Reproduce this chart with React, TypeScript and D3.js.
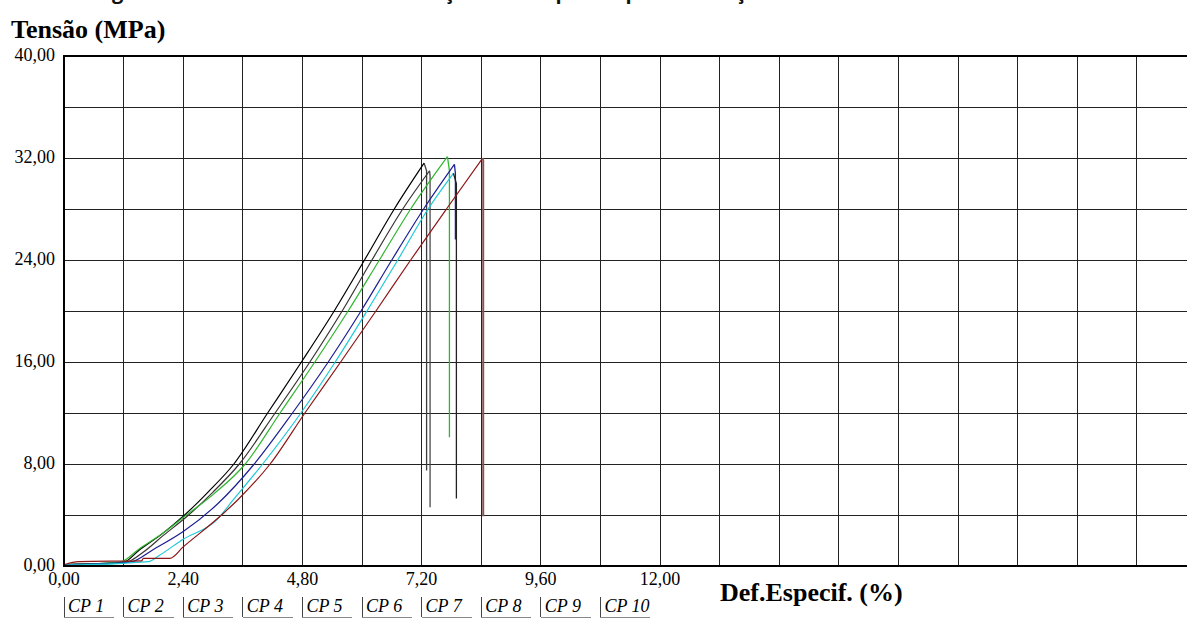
import * as d3 from "d3";

// curvas tensão x deformação (x = def. %, y = MPa), os dois últimos pontos = queda na ruptura
const CP1: [number, number][] = [
  [0, 0.1], [1.2, 0.3], [1.5, 1.2], [2.0, 2.6], [2.4, 3.9], [2.9, 5.8], [3.42, 8],
  [4.1, 12], [4.78, 16], [5.44, 20], [6.05, 24], [6.65, 28], [7.25, 31.6], [7.3, 31.0], [7.3, 7.5],
];
const CP2: [number, number][] = [
  [0, 0.1], [1.25, 0.3], [1.6, 1.1], [2.0, 2.4], [2.45, 3.8], [3.0, 5.8], [3.53, 8],
  [4.25, 12], [4.95, 16], [5.6, 20], [6.2, 24], [6.82, 28], [7.36, 31.0], [7.37, 30.6], [7.37, 4.6],
];
const CP3: [number, number][] = [
  [0, 0.1], [1.13, 0.3], [1.5, 1.3], [2.0, 2.6], [2.4, 3.8], [3.0, 5.6], [3.65, 8],
  [4.35, 12], [5.05, 16], [5.72, 20], [6.35, 24], [6.98, 28], [7.72, 32.1], [7.76, 31.0], [7.76, 10.1],
];
const CP4: [number, number][] = [
  [0, 0.1], [1.33, 0.3], [1.8, 1.3], [2.4, 2.7], [3.1, 4.9], [3.83, 8],
  [4.6, 12], [5.32, 16], [5.98, 20], [6.6, 24], [7.24, 28], [7.86, 31.5], [7.88, 30.8], [7.88, 25.6],
];
const CP5: [number, number][] = [
  [0, 0.1], [0.3, 0.1], [1.7, 0.34], [1.93, 0.86], [2.4, 2.1], [3.07, 3.6], [3.41, 5.2], [4.0, 8],
  [4.77, 12], [5.46, 16], [6.1, 20], [6.72, 24], [7.33, 28], [7.84, 30.8], [7.9, 30.0], [7.9, 5.3],
];
const CP6: [number, number][] = [
  [0, 0.1], [0.3, 0.35], [1.56, 0.4], [1.6, 0.6], [2.13, 0.6], [2.4, 1.5], [3.2, 4.1], [3.5, 5.2],
  [4.15, 8], [4.85, 12], [5.57, 16], [6.28, 20], [6.98, 24], [7.7, 28], [8.43, 32.0], [8.44, 31.8], [8.44, 3.9],
];

const SERIES = [CP1, CP2, CP3, CP4, CP5, CP6];
const SERIES_COLORS = ["#000000", "#3a3333", "#2fb52f", "#1c1f94", "#1fc9d6", "#8e1616"];
const DROP_COLORS = ["#3c3c3c", "#4a4a4a", "#2fb52f", "#1c1f94", "#222222", "#8a5555"];

const LEGEND = ["CP 1", "CP 2", "CP 3", "CP 4", "CP 5", "CP 6", "CP 7", "CP 8", "CP 9", "CP 10"];
const X_TICKS = [0, 2.4, 4.8, 7.2, 9.6, 12];
const Y_TICKS = [0, 8, 16, 24, 32, 40];

const W = 1187;
const H = 619;

const ptBR = d3.formatLocale({ decimal: ",", thousands: ".", grouping: [3], currency: ["", ""] });
const fmt = ptBR.format(".2f");

export default function App() {
  const x = d3.scaleLinear().domain([0, 24]).range([64, 64 + 24 * 49.67]);
  const y = d3.scaleLinear().domain([0, 40]).range([566, 56]);

  const curve = d3
    .line<[number, number]>()
    .x((d) => x(d[0]))
    .y((d) => y(d[1]))
    .curve(d3.curveMonotoneX);
  const straight = d3
    .line<[number, number]>()
    .x((d) => x(d[0]))
    .y((d) => y(d[1]));

  const xGrid = d3.range(1, 21).map((i) => i * 1.2);
  const yGrid = d3.range(1, 10).map((i) => i * 4);

  return (
    <div style={{ position: "absolute", left: 0, top: 0 }}>
      <svg width={W} height={H} style={{ display: "block", background: "#fff" }}>
        {/* legenda da figura, cortada no topo como no original */}
        <text x={95} y={-1} fontFamily="'Open Sans', sans-serif" fontWeight="bold" fontSize={20} fill="#111">
          Figura 4 – Curvas tensão x deformação dos corpos de prova à tração
        </text>

        <text x={11} y={38} fontFamily="'Liberation Serif', serif" fontWeight="bold" fontSize={26} fill="#000">
          Tensão (MPa)
        </text>

        {/* grade */}
        {xGrid.map((v) => (
          <line key={"gx" + v} x1={x(v)} x2={x(v)} y1={y(40)} y2={y(0)} stroke="#222" strokeWidth={1} shapeRendering="crispEdges" />
        ))}
        {yGrid.map((v) => (
          <line key={"gy" + v} x1={x(0)} x2={x(24)} y1={y(v)} y2={y(v)} stroke="#222" strokeWidth={1} shapeRendering="crispEdges" />
        ))}

        {/* curvas */}
        {SERIES.map((s, i) => (
          <g key={"s" + i}>
            <path d={curve(s.slice(0, -2)) ?? ""} fill="none" stroke={SERIES_COLORS[i]} strokeWidth={1.2} />
            <path d={straight(s.slice(-3)) ?? ""} fill="none" stroke={DROP_COLORS[i]} strokeWidth={i === 5 ? 2 : 1.3} />
          </g>
        ))}

        {/* moldura */}
        <line x1={x(0)} x2={x(24)} y1={y(40)} y2={y(40)} stroke="#000" strokeWidth={2} />
        <line x1={x(0)} x2={x(24)} y1={y(0)} y2={y(0)} stroke="#000" strokeWidth={2} />
        <line x1={x(0)} x2={x(0)} y1={y(40) - 1} y2={y(0) + 1} stroke="#000" strokeWidth={2} />

        {/* rótulos dos eixos */}
        {Y_TICKS.map((v) => (
          <text key={"yt" + v} x={55} y={y(v) + 5} textAnchor="end" fontFamily="'Liberation Serif', serif" fontSize={18} fill="#000">
            {fmt(v)}
          </text>
        ))}
        {X_TICKS.map((v) => (
          <text key={"xt" + v} x={x(v)} y={585} textAnchor="middle" fontFamily="'Liberation Serif', serif" fontSize={18} fill="#000">
            {fmt(v)}
          </text>
        ))}
        <text x={720} y={601} fontFamily="'Liberation Serif', serif" fontWeight="bold" fontSize={26} fill="#000">
          Def.Especif. (%)
        </text>

        {/* legenda */}
        {LEGEND.map((name, i) => {
          const lx = x(i * 1.2);
          return (
            <g key={name}>
              <line x1={lx} x2={lx} y1={597} y2={617} stroke="#444" strokeWidth={1} shapeRendering="crispEdges" />
              <line x1={lx} x2={lx + 50} y1={617} y2={617} stroke="#888" strokeWidth={1} shapeRendering="crispEdges" />
              <text x={lx + 4} y={612} fontFamily="'Liberation Serif', serif" fontStyle="italic" fontSize={18} fill="#000">
                {name}
              </text>
            </g>
          );
        })}
      </svg>
    </div>
  );
}
